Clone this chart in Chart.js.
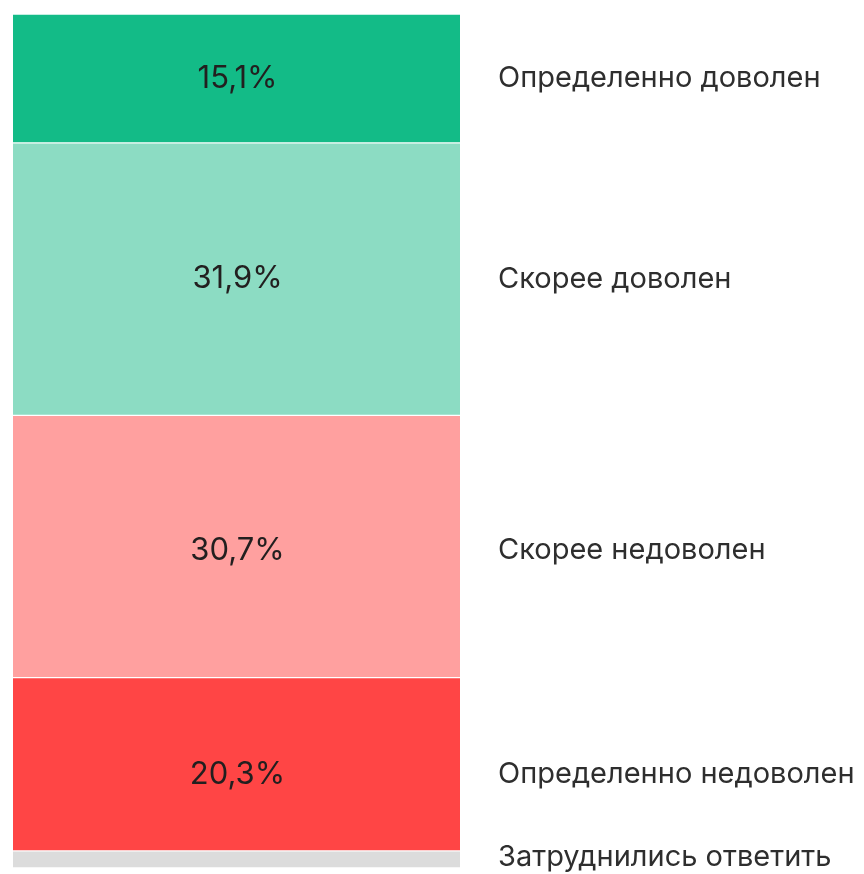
<!DOCTYPE html>
<html>
<head>
<meta charset="utf-8">
<script src="https://cdn.jsdelivr.net/npm/chart.js@4/dist/chart.umd.min.js"></script>
<style>
  html, body { margin: 0; padding: 0; background: #fff; }
  #wrap { width: 864px; height: 874px; }
</style>
</head>
<body>
<div id="wrap"><canvas id="chart" width="864" height="874"></canvas></div>
<script>
const answers = ["Определенно доволен", "Скорее доволен", "Скорее недоволен", "Определенно недоволен", "Затруднились ответить"];
const shares = [15.1, 31.9, 30.7, 20.3, 2.0];
const showValue = [true, true, true, true, false];
const colors = ["#13bb87", "#8cdcc3", "#ffa09f", "#ff4545", "#dcdcdc"];
// small vertical nudges for the text, as in the original layout
const textNudge = [0, 0, 4, 10, -2];

const fmt = v => v.toFixed(1).replace(".", ",") + "%";

const labelsPlugin = {
  id: "segmentLabels",
  afterDatasetsDraw(chart) {
    const ctx = chart.ctx;
    ctx.save();
    ctx.textBaseline = "middle";
    chart.data.datasets.forEach((ds, i) => {
      const bar = chart.getDatasetMeta(i).data[0];
      const yMid = (bar.y + bar.base) / 2 + textNudge[i];
      if (showValue[i]) {
        ctx.fillStyle = "#221f1f";
        ctx.font = "31px Inter, Roboto, sans-serif";
        ctx.textAlign = "center";
        ctx.fillText(fmt(ds.data[0]), bar.x + 1, yMid);
      }
      ctx.fillStyle = "#2e2e2e";
      ctx.font = "29px Inter, Roboto, sans-serif";
      ctx.textAlign = "left";
      ctx.fillText(ds.label, chart.chartArea.right + 38, yMid);
    });
    ctx.restore();
  }
};

new Chart(document.getElementById("chart"), {
  type: "bar",
  data: {
    labels: [""],
    datasets: answers.map((a, i) => ({
      label: a,
      data: [shares[i]],
      backgroundColor: colors[i],
      borderColor: "#ffffff",
      borderWidth: { top: 1, bottom: 1, left: 0, right: 0 },
      borderSkipped: false,
      barPercentage: 1,
      categoryPercentage: 1,
    })),
  },
  options: {
    responsive: false,
    animation: false,
    layout: { padding: { left: 13, right: 404, top: 14, bottom: 6 } },
    plugins: { legend: { display: false }, tooltip: { enabled: false } },
    scales: {
      x: { stacked: true, display: false },
      y: { stacked: true, display: false, reverse: true, min: 0, max: 100 },
    },
  },
  plugins: [labelsPlugin],
});
</script>
</body>
</html>
